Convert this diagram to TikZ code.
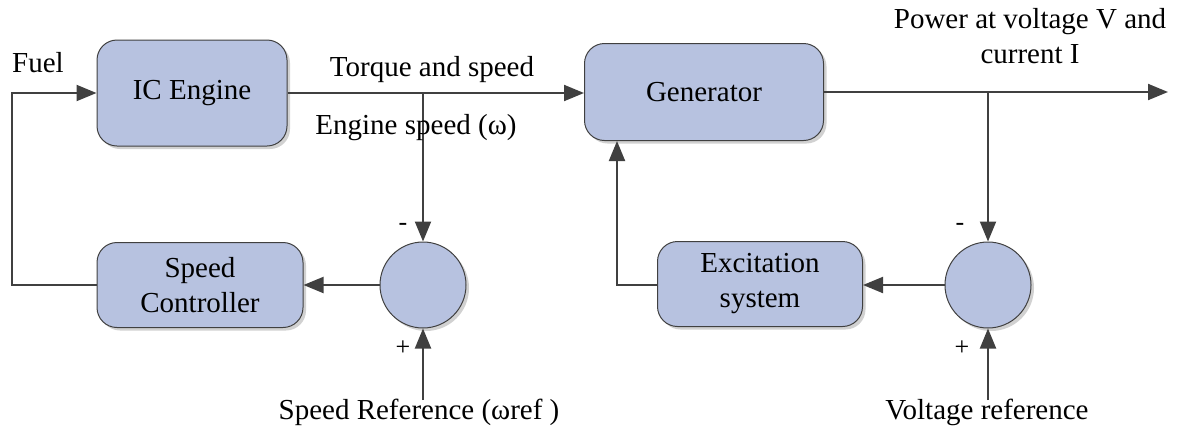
\documentclass[tikz,border=0pt]{standalone}
\usepackage{fontspec}
\setmainfont{Liberation Serif}
\usetikzlibrary{arrows.meta,shadows}
\definecolor{boxfill}{RGB}{183,194,224}
\definecolor{linec}{RGB}{64,64,64}
\tikzset{
  blk/.style={draw=linec, line width=1pt, fill=boxfill, rounded corners=20pt,
    minimum width=#1, drop shadow={shadow xshift=3pt, shadow yshift=-3pt, fill=black, opacity=0.18},
    align=center, inner sep=0pt},
  sumc/.style={draw=linec, line width=1pt, fill=boxfill, circle, minimum size=86pt, inner sep=0pt,
    drop shadow={shadow xshift=3pt, shadow yshift=-3pt, fill=black, opacity=0.18}},
  conn/.style={draw=linec, line width=2pt},
  arr/.style={conn, -{Triangle[length=20pt,width=16pt]}},
  lbl/.style={font=\fontsize{29}{35}\selectfont, inner sep=0pt, align=center},
  sgn/.style={font=\fontsize{26}{30}\selectfont, inner sep=0pt}
}
\begin{document}
\begin{tikzpicture}[x=1pt,y=-1pt, font=\fontsize{29}{35}\selectfont]
\useasboundingbox (0,0) rectangle (1177,432);
\node[blk=190pt, minimum height=106pt] (eng) at (192,93) {IC Engine};
\node[blk=239pt, minimum height=97pt] (gen) at (704,92) {Generator};
\node[blk=206pt, minimum height=85pt] (sc) at (200,285) {Speed\\Controller};
\node[blk=205pt, minimum height=85pt] (exc) at (760,284) {Excitation\\system};
\node[sumc] (c1) at (423,285) {};
\node[sumc] (c2) at (988,285) {};
\coordinate (j1) at (423,93);
\coordinate (j2) at (988,92);
\coordinate (out) at (1168,92);
\coordinate (lt) at (12,93);
\coordinate (lb) at (12,285);
\coordinate (eb) at (617,285);
\coordinate (b1) at (423,400);
\coordinate (b2) at (988,400);
% connectors
\draw[arr] (eng.east |- j1) -- (gen.west |- j1);
\draw[arr] (j1) -- (c1.north);
\draw[arr] (gen.east |- j2) -- (out);
\draw[arr] (j2) -- (c2.north);
\draw[arr] (c1.west) -- (sc.east);
\draw[arr] (c2.west) -- (exc.east |- c2.west);
\draw[arr] (sc.west) -- (lb) -- (lt) -- (eng.west |- lt);
\draw[arr] (exc.west |- eb) -- (eb) -- (eb |- gen.south);
\draw[arr] (b1) -- (c1.south);
\draw[arr] (b2) -- (c2.south);
% labels
\node[lbl] (fuel) at (38,63) {Fuel};
\node[lbl] (tq) at (432,70) {Torque and speed};
\node[lbl] (es) at (416,128) {Engine speed (ω)};
\node[lbl] (pw) at (1030,36) {Power at voltage V and\\current I};
\node[lbl] (sr) at (419,412) {Speed Reference (ωref )};
\node[lbl] (vr) at (987,412) {Voltage reference};
\node[sgn] (m1) at (403,227) {-};
\node[sgn] (p1) at (403,348) {+};
\node[sgn] (m2) at (960,227) {-};
\node[sgn] (p2) at (962,348) {+};
\end{tikzpicture}
\end{document}
